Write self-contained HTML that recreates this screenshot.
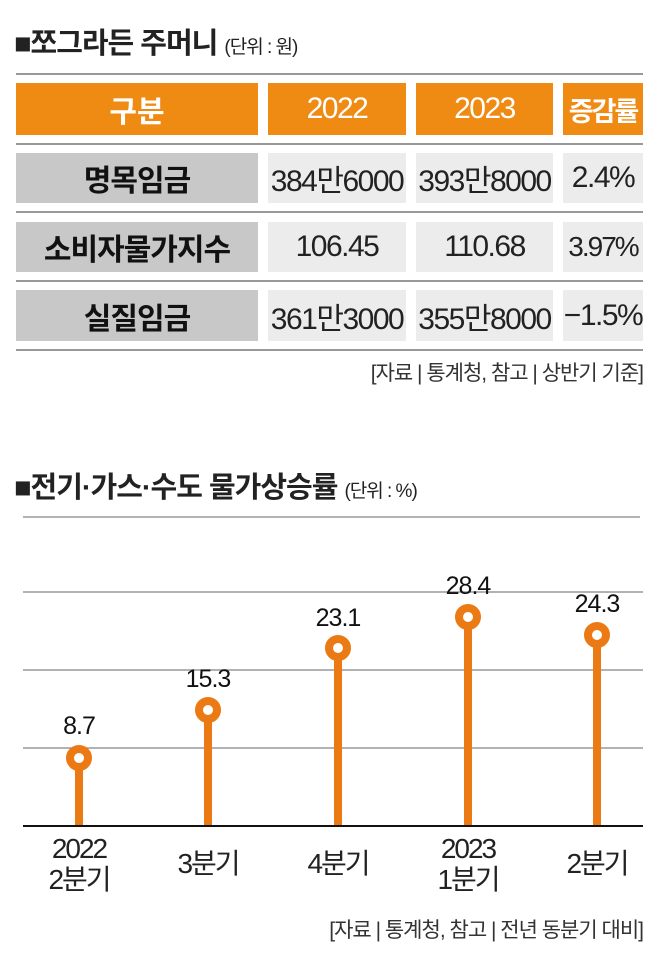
<!DOCTYPE html>
<html><head><meta charset="utf-8"><style>
*{margin:0;padding:0;box-sizing:border-box}
body{width:658px;height:967px;background:#fff;position:relative;overflow:hidden;font-family:"Liberation Sans","Noto Sans CJK KR",sans-serif;color:#222}
.a{position:absolute}
.t{font-weight:bold;font-size:29px;letter-spacing:-1px;white-space:nowrap}
.u{font-size:19px;font-weight:normal;letter-spacing:-1px}
.hl{position:absolute;left:16px;width:627px;height:2px;background:#999}
.c{position:absolute;display:flex;align-items:center;justify-content:center;font-size:30px;letter-spacing:-1.5px;white-space:nowrap}
.o{background:#ef8a13;color:#fff}
.g{background:#c8c8c8;color:#111;font-weight:bold;letter-spacing:-1px}
.l{background:#ececec;color:#222}
.fn{font-size:21px;letter-spacing:-1px;color:#333;white-space:nowrap}
</style></head><body>
<div class="a t" style="left:14px;top:20px">■쪼그라든 주머니 <span class="u">(단위 : 원)</span></div>
<div class="hl" style="top:73px"></div>
<div class="hl" style="top:143px"></div>
<div class="hl" style="top:211px"></div>
<div class="hl" style="top:280px"></div>
<div class="hl" style="top:349px"></div>

<div class="c o" style="left:16px;top:83px;width:242px;height:52px;font-weight:bold;letter-spacing:0">구분</div>
<div class="c o" style="left:268px;top:83px;width:138px;height:52px">2022</div>
<div class="c o" style="left:416px;top:83px;width:137px;height:52px">2023</div>
<div class="c o" style="left:563px;top:83px;width:80px;height:52px;font-weight:bold;font-size:27px;letter-spacing:-2px">증감률</div>

<div class="c g" style="left:16px;top:153px;width:242px;height:50px">명목임금</div>
<div class="c l" style="left:268px;top:153px;width:138px;height:50px">384만6000</div>
<div class="c l" style="left:416px;top:153px;width:137px;height:50px">393만8000</div>
<div class="c l" style="left:563px;top:153px;width:80px;height:50px">2.4%</div>

<div class="c g" style="left:16px;top:222px;width:242px;height:50px">소비자물가지수</div>
<div class="c l" style="left:268px;top:222px;width:138px;height:50px">106.45</div>
<div class="c l" style="left:416px;top:222px;width:137px;height:50px">110.68</div>
<div class="c l" style="left:563px;top:222px;width:80px;height:50px;font-size:28px;letter-spacing:-2px">3.97%</div>

<div class="c g" style="left:16px;top:290px;width:242px;height:51px">실질임금</div>
<div class="c l" style="left:268px;top:290px;width:138px;height:51px">361만3000</div>
<div class="c l" style="left:416px;top:290px;width:137px;height:51px">355만8000</div>
<div class="c l" style="left:563px;top:290px;width:80px;height:51px">−1.5%</div>

<div class="a fn" style="right:15px;top:357px">[자료 | 통계청, 참고 | 상반기 기준]</div>

<div class="a t" style="left:14px;top:464px">■전기·가스·수도 물가상승률 <span class="u">(단위 : %)</span></div>

<svg class="a" style="left:0;top:0" width="658" height="967">
<g stroke="#999" stroke-width="1.5">
<line x1="23" y1="517" x2="640" y2="517"/>
<line x1="23" y1="592" x2="643" y2="592"/>
<line x1="23" y1="670" x2="643" y2="670"/>
<line x1="23" y1="748" x2="643" y2="748"/>
</g>
<g stroke="#ec7a14" fill="#fff">
<line x1="79" y1="758" x2="79" y2="826" stroke-width="8"/>
<line x1="208" y1="710" x2="208" y2="826" stroke-width="8"/>
<line x1="338" y1="648" x2="338" y2="826" stroke-width="8"/>
<line x1="468" y1="617" x2="468" y2="826" stroke-width="8"/>
<line x1="597" y1="635" x2="597" y2="826" stroke-width="8"/>
<circle cx="79" cy="758" r="9" stroke-width="8"/>
<circle cx="208" cy="710" r="9" stroke-width="8"/>
<circle cx="338" cy="648" r="9" stroke-width="8"/>
<circle cx="468" cy="617" r="9" stroke-width="8"/>
<circle cx="597" cy="635" r="9" stroke-width="8"/>
</g>
<line x1="23" y1="826" x2="643" y2="826" stroke="#111" stroke-width="2"/>
<g font-family="Liberation Sans, Noto Sans CJK KR, sans-serif" font-size="25" fill="#111" text-anchor="middle" letter-spacing="-1">
<text x="79" y="734">8.7</text>
<text x="208" y="687">15.3</text>
<text x="338" y="626">23.1</text>
<text x="468" y="594">28.4</text>
<text x="597" y="612">24.3</text>
</g>
<g font-family="Liberation Sans, Noto Sans CJK KR, sans-serif" font-size="28" fill="#222" text-anchor="middle" letter-spacing="-2">
<text x="79" y="858">2022</text>
<text x="79" y="889">2분기</text>
<text x="208" y="873">3분기</text>
<text x="338" y="873">4분기</text>
<text x="468" y="858">2023</text>
<text x="468" y="889">1분기</text>
<text x="597" y="873">2분기</text>
</g>
</svg>
<div class="a fn" style="right:15px;top:914px">[자료 | 통계청, 참고 | 전년 동분기 대비]</div>
</body></html>
